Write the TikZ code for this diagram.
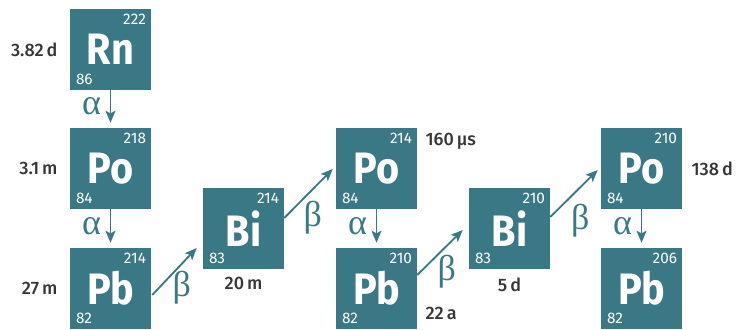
\documentclass[tikz,border=0pt]{standalone}
\usepackage{fontspec}
\setmainfont{Fira Sans}
\newfontfamily\hlfont{Fira Sans Medium}
\newfontfamily\greekfont{Liberation Serif}
\usepackage{graphicx}
\usepackage{tikz}
\usetikzlibrary{positioning,calc,arrows.meta}
\definecolor{nuclide}{HTML}{3B7885}
\definecolor{halftext}{HTML}{363636}

\tikzset{
	nuc/.style={fill=nuclide, minimum size=60.75pt, inner sep=0pt, text=white,
		font=\bfseries\fontsize{33}{36}\selectfont},
	mass/.style={anchor=north east, inner sep=3.75pt, text=white,
		font=\fontsize{11.5}{13}\selectfont},
	charge/.style={anchor=south west, inner sep=3.75pt, xshift=0.75pt, text=white,
		font=\fontsize{11.5}{13}\selectfont},
	decay/.style={-{Stealth[length=9pt, width=7.5pt, inset=2pt]}, line width=1.4pt, draw=nuclide},
	greek/.style={text=nuclide, font=\greekfont\fontsize{27}{30}\selectfont, inner sep=0pt},
	halflife/.style={text=halftext, font=\hlfont\fontsize{13.5}{15}\selectfont, inner sep=0pt}
}

\begin{document}
\begin{tikzpicture}[x=0.75pt, y=0.75pt]
	
	% Cadre
	\useasboundingbox (0,0) rectangle (738,329);
	
	% Noyaux
	\foreach \nm/\sym/\A/\Z/\px/\py in {
		rn/Rn/222/86/110.5/279.5,
		poA/Po/218/84/110.5/160.5,
		pbA/Pb/214/82/110.5/40.5,
		biA/Bi/214/83/243.5/100.5,
		poB/Po/214/84/376.5/160.5,
		pbB/Pb/210/82/376.5/40.5,
		biB/Bi/210/83/509.5/100.5,
		poC/Po/210/84/641.5/160.5,
		pbC/Pb/206/82/641.5/40.5} {
		\node[nuc, label={[mass]north east:\A}, label={[charge]south west:\Z}]
		(\nm) at (\px,\py) {\scalebox{0.9}[1]{\sym}};
	}
	
	% Periodes
	\node[halflife, left=9pt of rn] (hlRn) {3.82\,d};
	\node[halflife, left=9pt of poA] (hlPoA) {3.1\,m};
	\node[halflife, left=9pt of pbA] (hlPbA) {27\,m};
	\node[halflife, below=6pt of biA] (hlBiA) {20\,m};
	\node[halflife, anchor=west] (hlPoB) at ($(poB.north east)+(8,-14)$) {160\,µs};
	\node[halflife, anchor=west] (hlPbB) at ($(pbB.south east)+(8,16)$) {22\,a};
	\node[halflife, below=6pt of biB] (hlBiB) {5\,d};
	\node[halflife, right=6.75pt of poC] (hlPoC) {138\,d};
	
	% Desintegrations alpha
	\draw[decay] (rn.south) -- node[greek, xshift=-14.25pt] (aRn) {α} ($(poA.north)+(0,5)$);
	\draw[decay] (poA.south) -- node[greek, xshift=-14.25pt] (aPoA) {α} ($(pbA.north)+(0,5)$);
	\draw[decay] (poB.south) -- node[greek, xshift=-14.25pt] (aPoB) {α} ($(pbB.north)+(0,5)$);
	\draw[decay] (poC.south) -- node[greek, xshift=-14.25pt] (aPoC) {α} ($(pbC.north)+(0,5)$);
	
	% Desintegrations beta
	\draw[decay] ($(pbA.east)+(1,-6.5)$) -- ($(biA.west)+(-6,-19.5)$);
	\draw[decay] ($(biA.east)+(0,10.5)$) -- ($(poB.west)+(-3,-0.5)$);
	\draw[decay] ($(pbB.east)+(0,13.5)$) -- ($(biB.west)+(-6,-1.5)$);
	\draw[decay] ($(biB.east)+(0,11.5)$) -- ($(poC.west)+(-3,-1.5)$);
	\node[greek] (bPbA) at ($(pbA.east)+(30.5,1)$) {β};
	\node[greek] (bBiA) at ($(biA.east)+(28.5,11)$) {β};
	\node[greek] (bPbB) at ($(pbB.east)+(29.5,16.5)$) {β};
	\node[greek] (bBiB) at ($(biB.east)+(30,7.5)$) {β};
	
\end{tikzpicture}
\end{document}
